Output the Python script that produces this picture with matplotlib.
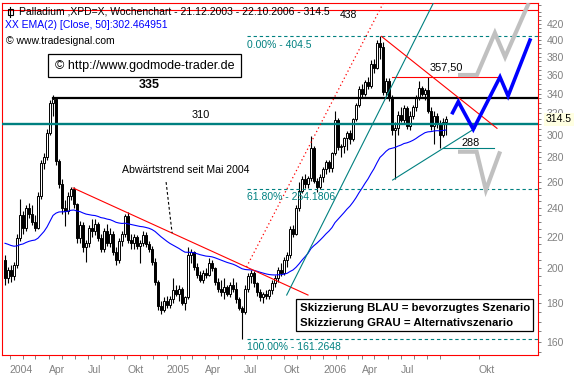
import datetime as dt
import numpy as np
import matplotlib
matplotlib.use("Agg")
import matplotlib.pyplot as plt
from matplotlib.patches import Rectangle
from matplotlib.lines import Line2D
from matplotlib.ticker import FixedLocator, NullFormatter

# ---------------- data (weekly candles, 21.12.2003 - 22.10.2006) ----------------
opens = [205, 194, 199, 195, 202, 219, 235, 226, 240, 236, 230, 226, 249, 275, 280, 302, 330, 334, 277, 258,
         240, 238, 249, 254, 243, 219, 228, 213, 216, 226, 224, 229, 219, 212, 224, 216, 222, 210, 205, 217,
         222, 234, 218, 216, 220, 214, 216, 221, 215, 212, 204, 192, 178, 176, 181, 179, 182, 187, 185, 188,
         180, 183, 208, 210, 201, 196, 193, 197, 196, 203, 200, 192, 188, 186, 189, 185, 190, 188, 182, 177,
         175, 188, 195, 197, 191, 186, 183, 185, 184, 187, 191, 194, 199, 197, 205, 208, 225, 222, 240, 253,
         262, 258, 263, 288, 261, 256, 264, 270, 276, 271, 284, 314, 289, 290, 297, 302, 296, 315, 328, 345,
         340, 352, 348, 372, 368, 396, 392, 342, 353, 336, 304, 306, 319, 314, 325, 308, 318, 326, 336, 346,
         340, 344, 322, 308, 318, 310, 300, 312]
highs = [208, 201, 202, 204, 222, 247, 238, 242, 244, 242, 235, 252, 278, 284, 305, 333, 338, 336, 279, 262,
         246, 252, 256, 256, 244, 231, 230, 218, 228, 232, 232, 230, 222, 226, 229, 226, 224, 213, 219, 224,
         236, 237, 222, 222, 221, 218, 224, 223, 217, 214, 206, 193, 181, 183, 184, 184, 194, 190, 190, 189,
         184, 213, 212, 211, 203, 198, 199, 200, 206, 205, 201, 194, 193, 194, 190, 192, 194, 192, 183, 178,
         190, 197, 199, 198, 192, 188, 186, 187, 188, 193, 196, 201, 203, 207, 210, 227, 228, 242, 260, 265,
         266, 265, 299, 290, 263, 266, 272, 278, 278, 285, 322, 316, 292, 298, 303, 304, 316, 330, 348, 350,
         354, 358, 376, 378, 400, 404.5, 398, 356, 356, 338, 312, 322, 326, 328, 327, 322, 328, 338, 353, 348,
         346, 357.5, 326, 322, 320, 314, 316, 318]
lows = [190, 191, 192, 193, 200, 217, 222, 224, 233, 228, 224, 225, 247, 270, 278, 300, 318, 274, 255, 236,
        227, 236, 246, 240, 216, 216, 210, 204, 213, 220, 221, 217, 210, 210, 214, 213, 208, 202, 203, 214,
        220, 216, 212, 212, 212, 203, 214, 213, 210, 202, 190, 176, 174, 175, 177, 177, 180, 184, 181, 179,
        176, 182, 203, 199, 194, 192, 191, 194, 195, 198, 190, 186, 184, 182, 184, 183, 186, 180, 176, 161.26,
        174, 186, 191, 189, 184, 181, 180, 182, 182, 185, 189, 192, 195, 196, 201, 206, 220, 221, 238, 251,
        255, 255, 261, 259, 252, 254, 260, 266, 268, 268, 282, 286, 280, 284, 286, 292, 294, 313, 326, 336,
        337, 345, 346, 362, 366, 378, 338, 335, 332, 300, 262, 300, 312, 310, 305, 304, 315, 322, 333, 337,
        333, 320, 304, 292, 306, 288, 298, 300]
closes = [194, 199, 195, 202, 219, 235, 226, 240, 236, 230, 226, 249, 275, 280, 302, 330, 334, 277, 258, 240,
          238, 249, 254, 243, 219, 228, 213, 216, 226, 224, 229, 219, 212, 224, 216, 222, 210, 205, 217, 222,
          234, 218, 216, 220, 214, 216, 221, 215, 212, 204, 192, 178, 176, 181, 179, 182, 187, 185, 188, 180,
          183, 208, 210, 201, 196, 193, 197, 196, 203, 200, 192, 188, 186, 189, 185, 190, 188, 182, 177, 175,
          188, 195, 197, 191, 186, 183, 185, 184, 187, 191, 194, 199, 197, 205, 208, 225, 222, 240, 253, 262,
          258, 263, 288, 261, 256, 264, 270, 276, 271, 284, 314, 289, 290, 297, 302, 296, 315, 328, 345, 340,
          352, 348, 372, 368, 396, 392, 342, 353, 336, 304, 306, 319, 314, 325, 308, 318, 326, 336, 346, 340,
          344, 322, 308, 318, 310, 300, 312, 314.5]

ema_period = 50
ema_seed = 215.7
first_bar = dt.date(2003, 12, 21)

# levels
level_438 = 438
level_335 = 335
level_310 = 310
level_357 = 357.5
level_288 = 288
fib_levels = [404.5, 254.1806, 161.2648]
fib_labels = ["0.00% - 404.5", "61.80% - 254.1806", "100.00% - 161.2648"]

# trend lines (bar index, price)
downtrend_2004 = ([22.7, 101.0], [255.2, 184.3])
red_dotted = ([80.5, 126.1], [200.7, 447.7])
teal_up = ([93.9, 142.8], [184.3, 447.7])
teal_low = ([129.2, 156.7], [261.4, 305.9])
red_down_2006 = ([125.5, 164.0], [404.5, 305.9])
pointer = ([53.7, 55.7], [259.8, 222.5])

# scenario sketches (future bar index, price)
blue_x = [149.2, 151.1, 156.1, 165.0, 167.7, 175.0]
blue_y = [320.8, 331.7, 305.0, 357.5, 337.5, 400.0]
gray_up_x = [151.7, 157.3, 163.3, 166.7, 174.3]
gray_up_y = [359.7, 359.7, 408.7, 380.0, 445.0]
gray_dn_x = [151.7, 157.2, 160.3, 164.8]
gray_dn_y = [284.9, 284.9, 253.6, 283.5]

y_ticks = list(range(160, 421, 20))
x_tick_texts = ["2004", "Apr", "Jul", "Okt", "2005", "Apr", "Jul", "Okt", "2006", "Apr", "Jul", "Okt"]
x_tick_dates = [dt.date(2004, 1, 1), dt.date(2004, 4, 1), dt.date(2004, 7, 1), dt.date(2004, 10, 1),
                dt.date(2005, 1, 1), dt.date(2005, 4, 1), dt.date(2005, 7, 1), dt.date(2005, 10, 1),
                dt.date(2006, 1, 1), dt.date(2006, 4, 1), dt.date(2006, 7, 1), dt.date(2006, 12, 31)]

# ---------------- figure ----------------
plt.rcParams['font.family'] = ['Liberation Sans', 'DejaVu Sans']
W, H = 576, 378
fig = plt.figure(figsize=(W / 100, H / 100), dpi=100)
fx = lambda px: px / W
fy = lambda py: 1 - py / H

L, R, T, B = 2, 538, 3, 355
ax = fig.add_axes([fx(L), fy(B), (R - L) / W, (B - T) / H])
ax.set_yscale('log')
ax.set_xlim(-1, 177.67)
ax.set_ylim(153.6, 447.7)

teal = '#008080'
red = '#FF0000'
blue = '#0000FF'
gray_txt = '#808080'

n = len(closes)
x = np.arange(n)
o = np.array(opens, float)
h = np.array(highs, float)
l = np.array(lows, float)
c = np.array(closes, float)
up = c >= o

ax.vlines(x, l, h, color='black', lw=0.8, zorder=2)
bb = np.minimum(o, c)
bh = np.maximum(np.abs(c - o), 0.6)
ax.bar(x[up], bh[up], bottom=bb[up], width=0.68, facecolor='white', edgecolor='black', lw=0.7, zorder=2.5)
ax.bar(x[~up], bh[~up], bottom=bb[~up], width=0.68, facecolor='black', edgecolor='black', lw=0.7, zorder=2.5)

# EMA 50
alpha = 2 / (ema_period + 1)
ema = [ema_seed]
for v in closes[1:]:
    ema.append(ema[-1] + alpha * (v - ema[-1]))
ax.plot(x, ema, color=blue, lw=0.8, zorder=3)

xl, xr = ax.get_xlim()
# horizontal levels
ax.plot([xl, xr], [level_438] * 2, color=red, lw=0.8, zorder=4)
ax.plot([16, xr], [level_335] * 2, color='black', lw=1.6, zorder=4)
ax.plot([xl, xr], [level_310] * 2, color=teal, lw=1.7, zorder=4)
ax.plot([129, 165], [level_357] * 2, color=red, lw=0.8, zorder=4)
ax.plot([146, 163], [level_288] * 2, color=teal, lw=0.8, zorder=4)
for lv in fib_levels:
    ax.plot([80.7, xr], [lv, lv], color=teal, lw=0.8, ls=(0, (3, 2.5)), zorder=4)

# trend lines
ax.plot(*downtrend_2004, color=red, lw=0.8, zorder=4)
ax.plot(*red_dotted, color=red, lw=0.9, ls=(0, (1, 2.2)), zorder=4)
ax.plot(*teal_up, color=teal, lw=0.8, zorder=4)
ax.plot(*teal_low, color=teal, lw=0.8, zorder=4)
ax.plot(*red_down_2006, color=red, lw=0.8, zorder=4)
ax.plot(*pointer, color='black', lw=0.8, ls=(0, (2.5, 2)), zorder=4)

# scenario sketches
ax.plot(gray_up_x, gray_up_y, color='#C0C0C0', lw=3.0, zorder=5, solid_joinstyle='miter')
ax.plot(gray_dn_x, gray_dn_y, color='#C0C0C0', lw=3.0, zorder=5, solid_joinstyle='miter')
ax.plot(blue_x, blue_y, color=blue, lw=2.6, zorder=5, solid_joinstyle='miter')

# axes styling
for s in ax.spines.values():
    s.set_color(red)
    s.set_linewidth(0.8)
ax.yaxis.tick_right()
ax.yaxis.set_major_locator(FixedLocator(y_ticks))
ax.set_yticklabels([str(v) for v in y_ticks])
ax.yaxis.set_minor_locator(FixedLocator([v for v in range(155, 446, 5) if v % 20 != 0]))
ax.yaxis.set_minor_formatter(NullFormatter())
ax.tick_params(axis='y', which='both', colors=gray_txt, labelcolor=gray_txt, labelsize=7.5,
               length=2.5, width=0.7, pad=3.5, direction='out')

xtick_pos = [(d - first_bar).days / 7 for d in x_tick_dates]
ax.xaxis.set_major_locator(FixedLocator(xtick_pos))
ax.set_xticklabels(x_tick_texts)
for lbl in ax.get_xticklabels():
    lbl.set_horizontalalignment('left')
months = []
for yr in (2004, 2005, 2006):
    for m in range(1, 13):
        d = dt.date(yr, m, 1)
        if d <= dt.date(2006, 10, 1):
            months.append((d - first_bar).days / 7)
ax.xaxis.set_minor_locator(FixedLocator(months))
ax.tick_params(axis='x', which='both', colors=gray_txt, labelcolor=gray_txt, labelsize=7.5,
               length=3, width=0.7, pad=4.5, direction='out')

# ---------------- texts ----------------
def ftext(px, py, s, **kw):
    kw.setdefault('size', 7.5)
    kw.setdefault('va', 'center')
    kw.setdefault('ha', 'left')
    return fig.text(fx(px), fy(py), s, **kw)

# title icon
fig.add_artist(Rectangle((fx(7.5), fy(14.5)), 5 / W, 5 / H, transform=fig.transFigure,
                         fill=False, edgecolor='black', lw=0.8))
fig.add_artist(Line2D([fx(10), fx(10)], [fy(6.5), fy(17)], transform=fig.transFigure, color='black', lw=0.8))
ftext(19, 12, "Palladium ,XPD=X, Wochenchart - 21.12.2003 - 22.10.2006 - 314.5", color='black')
ftext(5, 25.5, "XX EMA(2) [Close, 50]:302.464951", color=blue)
ftext(6, 41, "\u00a9 www.tradesignal.com", color='black')

fig.add_artist(Rectangle((fx(48), fy(77)), (241 - 48) / W, (77 - 54) / H, transform=fig.transFigure,
                         facecolor='white', edgecolor='black', lw=0.9, zorder=6))
ftext(144.5, 65.5, "\u00a9 http://www.godmode-trader.de", size=9, ha='center', zorder=7)

fig.add_artist(Rectangle((fx(296), fy(331)), (533 - 296) / W, (331 - 299) / H, transform=fig.transFigure,
                         facecolor='white', edgecolor='black', lw=0.9, zorder=6))
ftext(300, 308, "Skizzierung BLAU = bevorzugtes Szenario", size=8.2, weight='bold', zorder=7)
ftext(300, 322.5, "Skizzierung GRAU = Alternativszenario", size=8.2, weight='bold', zorder=7)

ftext(149, 85, "335", size=9, weight='bold', ha='center')
ftext(201, 114.5, "310", size=7.8, ha='center')
ftext(348.5, 15.5, "438", size=7.5, ha='center')
ftext(446.5, 68, "357,50", size=7.8, ha='center')
ftext(471, 143, "288", size=7.8, ha='center')
ftext(186, 170, "Abw\u00e4rtstrend seit Mai 2004", size=7.6, ha='center')

for txt, py in zip(fib_labels, [44.5, 197.5, 346.5]):
    ftext(247, py, txt, color=teal, size=7.5)

ftext(546, 119.5, "314.5", size=7.5, color='black', zorder=8,
      bbox=dict(boxstyle='square,pad=0.15', facecolor='#FFFFE1', edgecolor='none'))

fig.savefig("out.png", dpi=100, facecolor='white')
